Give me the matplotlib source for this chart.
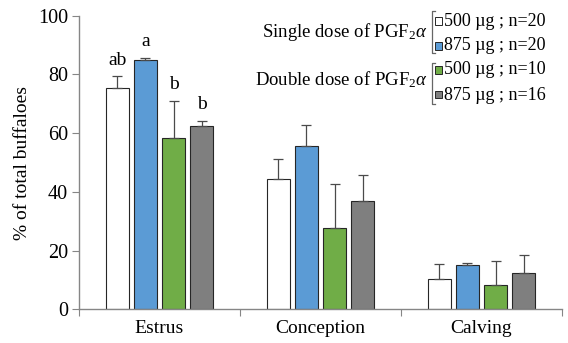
import matplotlib
matplotlib.use("Agg")
import matplotlib.pyplot as plt
import numpy as np

categories = ["Estrus", "Conception", "Calving"]
series_labels = ["500 µg ; n=20", "875 µg ; n=20", "500 µg ; n=10", "875 µg ; n=16"]
series_colors = ["#FFFFFF", "#5B9BD5", "#70AD47", "#7F7F7F"]
white_500_single = [75.5, 44.4, 10.4]
blue_875_single = [84.9, 55.5, 15.0]
green_500_double = [58.3, 27.8, 8.4]
gray_875_double = [62.3, 36.8, 12.4]
err_white = [3.9, 6.8, 5.1]
err_blue = [0.8, 7.2, 0.8]
err_green = [12.7, 14.8, 8.2]
err_gray = [2.0, 8.8, 6.0]
estrus_letters = ["ab", "a", "b", "b"]
yticks = [0, 20, 40, 60, 80, 100]

plt.rcParams['font.family'] = ['Liberation Serif', 'DejaVu Serif']
plt.rcParams['mathtext.fontset'] = 'custom'
plt.rcParams['mathtext.rm'] = 'Liberation Serif'
plt.rcParams['mathtext.it'] = 'Liberation Serif:italic'

W, H = 568, 343
fig = plt.figure(figsize=(W / 100, H / 100), dpi=100)
ax = fig.add_axes([79 / W, 1 - 309.3 / H, (562 - 79) / W, (309.3 - 15.7) / H])

values = [white_500_single, blue_875_single, green_500_double, gray_875_double]
errs = [err_white, err_blue, err_green, err_gray]
centers = np.arange(len(categories)) + 0.5
step = 0.174
width = 0.143
offsets = (np.arange(4) - 1.5) * step

for i in range(4):
    x = centers + offsets[i]
    ax.bar(x, values[i], width=width, color=series_colors[i], edgecolor="#262626",
           linewidth=0.8, zorder=2)
    ax.errorbar(x, values[i], yerr=[np.zeros(3), errs[i]], fmt="none",
                ecolor="#4a4a4a", elinewidth=0.9, capsize=3.6, capthick=0.9, zorder=3)

# significance letters over Estrus
for i in range(4):
    top = values[i][0] + errs[i][0]
    ax.text(centers[0] + offsets[i], top + 5.5, estrus_letters[i], ha="center",
            va="center", fontsize=14)

ax.set_xlim(0, 3)
ax.set_ylim(0, 100)
ax.set_yticks(yticks)
ax.set_xticks([0, 1, 2, 3])
ax.set_xticklabels([])
ax.set_xticks(centers, minor=True)
ax.set_xticklabels(categories, minor=True, fontsize=14)
ax.tick_params(axis="x", which="minor", length=0, pad=8)
ax.tick_params(axis="x", which="major", length=5, direction="out", color="#868686")
ax.tick_params(axis="y", length=5, direction="out", color="#868686", labelsize=14.5, pad=3)
for s in ["top", "right"]:
    ax.spines[s].set_visible(False)
for s in ["left", "bottom"]:
    ax.spines[s].set_color("#868686")
    ax.spines[s].set_linewidth(1.0)
ax.set_ylabel("% of total buffaloes", fontsize=14, labelpad=5)

# manual legend
def fx(px):
    return px / W

def fy(py):
    return 1 - py / H

group_text = [r"Single dose of PGF$_{\mathrm{2}}\alpha$", r"Double dose of PGF$_{\mathrm{2}}\alpha$"]
group_y = [32, 80]
row_y = [21, 46, 70, 95]
bracket_spans = [(11, 53), (63, 104)]
for g in range(2):
    fig.text(fx(428), fy(group_y[g]), group_text[g], ha="right", va="center", fontsize=13.5)
    y0, y1 = bracket_spans[g]
    fig.add_artist(plt.Line2D([fx(434.5), fx(432), fx(432), fx(434.5)],
                              [fy(y0), fy(y0), fy(y1), fy(y1)],
                              color="#666666", lw=0.9, transform=fig.transFigure))
for i in range(4):
    fig.add_artist(plt.Rectangle((fx(435), fy(row_y[i] + 3.5)), 7 / W, 7 / H,
                                 facecolor=series_colors[i], edgecolor="#262626",
                                 lw=0.7, transform=fig.transFigure))
    fig.text(fx(444), fy(row_y[i]), series_labels[i], ha="left", va="center", fontsize=13)

fig.savefig("out.png", dpi=100)
